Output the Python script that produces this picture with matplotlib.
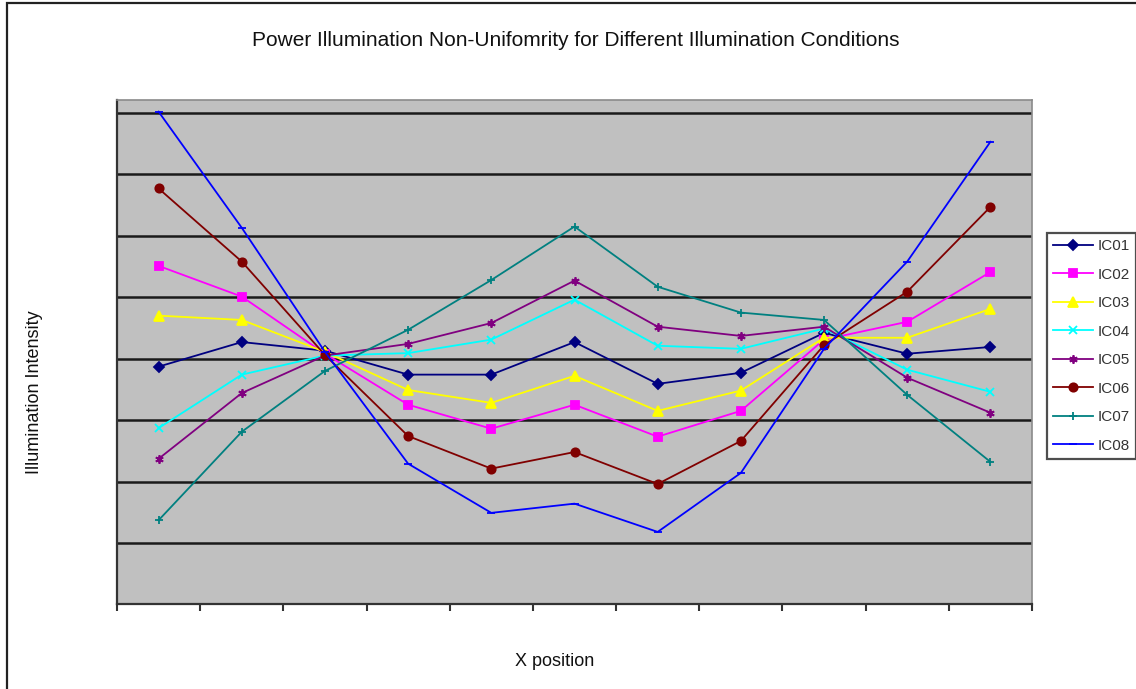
import matplotlib
matplotlib.use("Agg")
import matplotlib.pyplot as plt
from matplotlib.patches import Rectangle

plt.rcParams['font.family'] = ['Liberation Sans', 'DejaVu Sans']

positions = list(range(1, 12))
series_names = ["IC01", "IC02", "IC03", "IC04", "IC05", "IC06", "IC07", "IC08"]
ic01 = [3.87, 4.27, 4.13, 3.74, 3.74, 4.27, 3.59, 3.77, 4.42, 4.08, 4.19]
ic02 = [5.51, 5.01, 4.08, 3.25, 2.86, 3.25, 2.73, 3.15, 4.31, 4.60, 5.41]
ic03 = [4.70, 4.63, 4.11, 3.49, 3.28, 3.72, 3.15, 3.48, 4.34, 4.34, 4.81]
ic04 = [2.87, 3.74, 4.05, 4.09, 4.31, 4.96, 4.21, 4.16, 4.49, 3.82, 3.46]
ic05 = [2.37, 3.44, 4.05, 4.24, 4.58, 5.27, 4.52, 4.37, 4.52, 3.69, 3.12]
ic06 = [6.77, 5.58, 4.06, 2.74, 2.21, 2.48, 1.96, 2.66, 4.22, 5.09, 6.47]
ic07 = [1.37, 2.81, 3.80, 4.47, 5.28, 6.15, 5.17, 4.75, 4.63, 3.41, 2.32]
ic08 = [8.02, 6.13, 4.11, 2.29, 1.49, 1.64, 1.18, 2.14, 4.16, 5.58, 7.53]
all_series = [ic01, ic02, ic03, ic04, ic05, ic06, ic07, ic08]

colors = ["#000080", "#FF00FF", "#FFFF00", "#00FFFF", "#800080", "#800000", "#008080", "#0000FF"]
markers = ["D", "s", "^", "x", (6, 2, 0), "o", "+", "_"]
msizes = [5, 6, 7, 6, 6, 6, 6, 6]

fig = plt.figure(figsize=(11.36, 6.89), dpi=100)
fig.patch.set_facecolor("white")
# outer chart border
fig.patches.append(Rectangle((7 / 1136, -0.05), 1.2, 1.05 - 3 / 689,
                             transform=fig.transFigure, fill=False,
                             edgecolor="#222222", linewidth=1.6))

ax = fig.add_axes([117 / 1136, 84.6 / 689, 915 / 1136, 504.4 / 689])
ax.set_facecolor("#C0C0C0")

lines = []
for name, vals, c, m, ms in zip(series_names, all_series, colors, markers, msizes):
    ln, = ax.plot(positions, vals, color=c, marker=m, markersize=ms,
                  markerfacecolor=c, markeredgecolor=c, markeredgewidth=1.3,
                  linewidth=1.3, label=name, zorder=3)
    lines.append(ln)

ax.set_xlim(0.5, 11.5)
ax.set_ylim(0, 8.21)
ax.set_yticks(range(1, 9))
ax.yaxis.grid(True, color="#1a1a1a", linewidth=1.8, zorder=1)
ax.set_axisbelow(True)
ax.tick_params(axis="y", length=0, labelleft=False)
ax.set_xticks([x + 0.5 for x in range(0, 12)])
ax.tick_params(axis="x", length=5, width=1.5, direction="out", color="#333333", labelbottom=False)

for side in ["left", "bottom"]:
    ax.spines[side].set_color("#333333")
    ax.spines[side].set_linewidth(1.6)
for side in ["top", "right"]:
    ax.spines[side].set_color("#8a8a8a")
    ax.spines[side].set_linewidth(1.2)

fig.text(576 / 1136, 1 - 40 / 689, "Power Illumination Non-Unifomrity for Different Illumination Conditions",
         ha="center", va="center", fontsize=15, color="#111111")
fig.text(35 / 1136, 1 - 392 / 689, "Illumination Intensity", rotation=90,
         ha="center", va="center", fontsize=13, color="#111111")
fig.text(555 / 1136, 1 - 661 / 689, "X position", ha="center", va="center", fontsize=13,
         color="#111111")

leg = fig.legend(handles=lines, loc="upper left",
                 bbox_to_anchor=(1047 / 1136, 1 - 233 / 689),
                 frameon=True, fancybox=False, fontsize=11,
                 handlelength=2.6, handletextpad=0.3, labelspacing=0.95,
                 borderpad=0.4, borderaxespad=0)
leg.get_frame().set_edgecolor("#222222")
leg.get_frame().set_linewidth(1.6)
for t in leg.get_texts():
    t.set_color("#333333")

fig.savefig("out.png", dpi=100, facecolor="white")
